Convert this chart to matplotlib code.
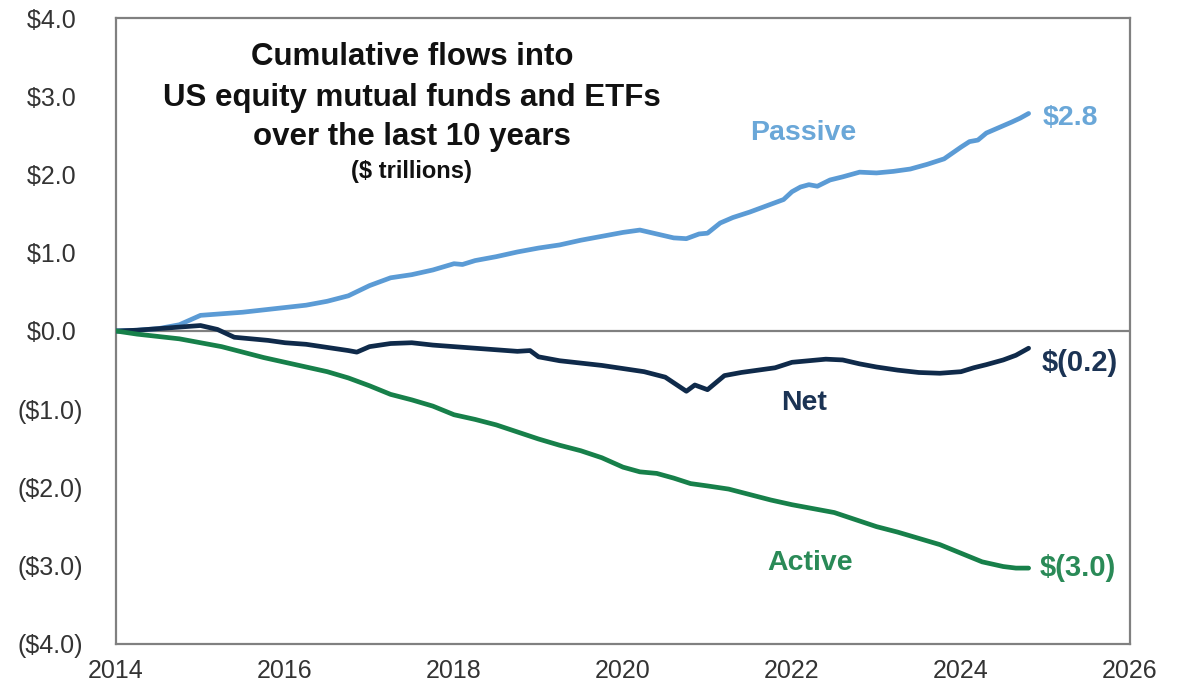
import matplotlib
matplotlib.use("Agg")
import matplotlib.pyplot as plt

# ---- data (decimal years, $ trillions) ----
passive_x = [2014.0, 2014.25, 2014.5, 2014.75, 2015.0, 2015.25, 2015.5, 2015.75, 2016.0, 2016.25,
             2016.5, 2016.75, 2017.0, 2017.25, 2017.5, 2017.75, 2018.0, 2018.1, 2018.25, 2018.5,
             2018.75, 2019.0, 2019.25, 2019.5, 2019.75, 2020.0, 2020.2, 2020.4, 2020.6, 2020.75,
             2020.9, 2021.0, 2021.15, 2021.3, 2021.5, 2021.7, 2021.9, 2022.0, 2022.1, 2022.2,
             2022.3, 2022.45, 2022.6, 2022.8, 2023.0, 2023.2, 2023.4, 2023.6, 2023.8, 2024.0,
             2024.1, 2024.2, 2024.3, 2024.45, 2024.6, 2024.7, 2024.8]
passive_y = [0.00, 0.01, 0.03, 0.08, 0.20, 0.22, 0.24, 0.27, 0.30, 0.33,
             0.38, 0.45, 0.58, 0.68, 0.72, 0.78, 0.86, 0.85, 0.90, 0.95,
             1.01, 1.06, 1.10, 1.16, 1.21, 1.26, 1.29, 1.24, 1.19, 1.18,
             1.24, 1.25, 1.38, 1.45, 1.52, 1.60, 1.68, 1.78, 1.84, 1.87,
             1.85, 1.93, 1.97, 2.03, 2.02, 2.04, 2.07, 2.13, 2.20, 2.35,
             2.42, 2.44, 2.53, 2.60, 2.67, 2.72, 2.78]

net_x = [2014.0, 2014.25, 2014.5, 2014.75, 2015.0, 2015.2, 2015.4, 2015.6, 2015.8, 2016.0,
         2016.25, 2016.5, 2016.75, 2016.85, 2017.0, 2017.25, 2017.5, 2017.75, 2018.0, 2018.25,
         2018.5, 2018.75, 2018.9, 2019.0, 2019.25, 2019.5, 2019.75, 2020.0, 2020.25, 2020.5,
         2020.75, 2020.85, 2021.0, 2021.2, 2021.4, 2021.6, 2021.8, 2022.0, 2022.2, 2022.4,
         2022.6, 2022.8, 2023.0, 2023.25, 2023.5, 2023.75, 2024.0, 2024.15, 2024.3, 2024.5,
         2024.65, 2024.8]
net_y = [0.00, 0.01, 0.03, 0.05, 0.07, 0.02, -0.08, -0.10, -0.12, -0.15,
         -0.17, -0.21, -0.25, -0.27, -0.20, -0.16, -0.15, -0.18, -0.20, -0.22,
         -0.24, -0.26, -0.25, -0.33, -0.38, -0.41, -0.44, -0.48, -0.52, -0.59,
         -0.77, -0.69, -0.75, -0.57, -0.53, -0.50, -0.47, -0.40, -0.38, -0.36,
         -0.37, -0.42, -0.46, -0.50, -0.53, -0.54, -0.52, -0.47, -0.43, -0.37,
         -0.31, -0.22]

active_x = [2014.0, 2014.25, 2014.5, 2014.75, 2015.0, 2015.25, 2015.5, 2015.75, 2016.0, 2016.25,
            2016.5, 2016.75, 2017.0, 2017.25, 2017.5, 2017.75, 2018.0, 2018.25, 2018.5, 2018.75,
            2019.0, 2019.25, 2019.5, 2019.75, 2020.0, 2020.2, 2020.4, 2020.6, 2020.8, 2021.0,
            2021.25, 2021.5, 2021.75, 2022.0, 2022.25, 2022.5, 2022.75, 2023.0, 2023.25, 2023.5,
            2023.75, 2024.0, 2024.25, 2024.5, 2024.65, 2024.8]
active_y = [0.00, -0.04, -0.07, -0.10, -0.15, -0.20, -0.27, -0.34, -0.40, -0.46,
            -0.52, -0.60, -0.70, -0.81, -0.88, -0.96, -1.07, -1.13, -1.20, -1.29,
            -1.38, -1.46, -1.53, -1.62, -1.74, -1.80, -1.82, -1.88, -1.95, -1.98,
            -2.02, -2.09, -2.16, -2.22, -2.27, -2.32, -2.41, -2.50, -2.57, -2.65,
            -2.73, -2.84, -2.95, -3.01, -3.03, -3.03]

x_ticks = [2014, 2016, 2018, 2020, 2022, 2024, 2026]
y_ticks = [4, 3, 2, 1, 0, -1, -2, -3, -4]
y_tick_labels = ["\\$4.0 ", "\\$3.0 ", "\\$2.0 ", "\\$1.0 ", "\\$0.0 ",
                 "(\\$1.0)", "(\\$2.0)", "(\\$3.0)", "(\\$4.0)"]

title_lines = ["Cumulative flows into", "US equity mutual funds and ETFs", "over the last 10 years"]
subtitle = "(\\$ trillions)"
end_labels = {"passive": "\\$2.8", "net": "\\$(0.2)", "active": "\\$(3.0)"}

# ---- style ----
plt.rcParams['font.family'] = ['Liberation Sans', 'DejaVu Sans']
c_passive, c_passive_txt = "#5B9BD5", "#6AA7D8"
c_net, c_net_txt = "#0F2A4A", "#1B3354"
c_active, c_active_txt = "#17804A", "#2A8A57"
grey = "#808080"

fig = plt.figure(figsize=(11.83, 6.94), dpi=100)
ax = fig.add_axes([116/1183, 1-644/694, (1130-116)/1183, (644-18)/694])

ax.axhline(0, color=grey, lw=1.6, zorder=1)
ax.plot(passive_x, passive_y, color=c_passive, lw=3.4, zorder=3, solid_capstyle='round')
ax.plot(net_x, net_y, color=c_net, lw=3.4, zorder=3, solid_capstyle='round')
ax.plot(active_x, active_y, color=c_active, lw=3.4, zorder=3, solid_capstyle='round')

ax.set_xlim(2014, 2026)
ax.set_ylim(-4, 4)
ax.set_xticks(x_ticks)
ax.set_xticklabels([str(t) for t in x_ticks])
ax.set_yticks(y_ticks)
ax.set_yticklabels(y_tick_labels)
ax.tick_params(axis='both', length=0, labelsize=18, labelcolor="#333333")
ax.tick_params(axis='y', pad=24)
ax.tick_params(axis='x', pad=11)
for s in ax.spines.values():
    s.set_color(grey)
    s.set_linewidth(1.6)

# title block
tx = 2017.5
for txt, yy in zip(title_lines, [3.50, 2.98, 2.48]):
    ax.text(tx, yy, txt, ha='center', va='center', fontsize=22.5, fontweight='bold', color="#111111")
ax.text(tx, 2.04, subtitle, ha='center', va='center', fontsize=17, fontweight='bold', color="#111111")

# series labels
ax.text(2022.13, 2.53, "Passive", ha='center', va='center', fontsize=20.5, fontweight='bold', color=c_passive_txt)
ax.text(2022.14, -0.92, "Net", ha='center', va='center', fontsize=20.5, fontweight='bold', color=c_net_txt)
ax.text(2022.22, -2.96, "Active", ha='center', va='center', fontsize=20.5, fontweight='bold', color=c_active_txt)

ax.text(2024.97, 2.72, end_labels["passive"], ha='left', va='center', fontsize=20.5, fontweight='bold', color=c_passive_txt)
ax.text(2024.96, -0.41, end_labels["net"], ha='left', va='center', fontsize=21, fontweight='bold', color=c_net_txt)
ax.text(2024.93, -3.03, end_labels["active"], ha='left', va='center', fontsize=21, fontweight='bold', color=c_active_txt)

fig.savefig("out.png", dpi=100, facecolor="white")
